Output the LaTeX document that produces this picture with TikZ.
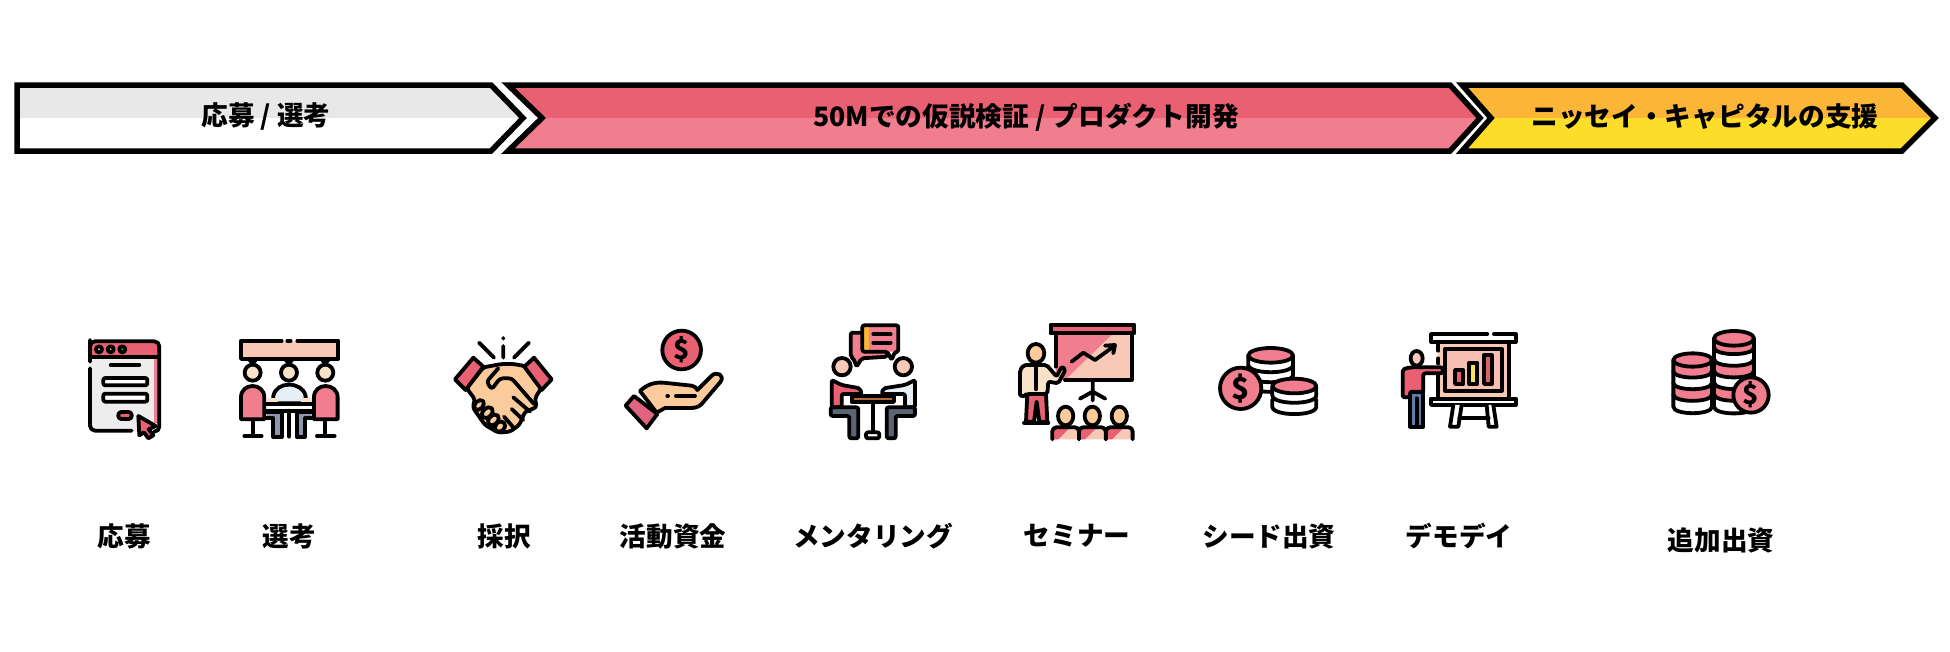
\documentclass[tikz,border=0pt]{standalone}
\usepackage{fontspec}
\setmainfont{Noto Sans CJK JP}
\usetikzlibrary{positioning}
\definecolor{flowRed}{HTML}{E96073}
\definecolor{flowPink}{HTML}{F07E8E}
\definecolor{flowGrey}{HTML}{E8E8E8}
\definecolor{flowAmber}{HTML}{FBB637}
\definecolor{flowYellow}{HTML}{FBDD2A}
\definecolor{iconPeach}{HTML}{F9C9B8}
\definecolor{iconSkin}{HTML}{FBCB9C}
\definecolor{iconCream}{HTML}{F9E3C8}
\definecolor{iconIce}{HTML}{E6EEF6}
\definecolor{iconSlate}{HTML}{8C97AE}
\definecolor{iconDark}{HTML}{5A6472}
\definecolor{iconBrown}{HTML}{B9683A}
\definecolor{iconBlue}{HTML}{5F7BA8}
\definecolor{iconRose}{HTML}{E0637F}
\tikzset{
  phaselabel/.style={font=\fontsize{26.7}{30}\selectfont\bfseries,inner sep=0pt},
  steplabel/.style={font=\fontsize{26.6}{30}\selectfont\bfseries,inner sep=0pt},
  phaseline/.style={draw=black,line width=5.5pt,miter limit=10},
  iconline/.style={draw=black,line width=3.8pt,line join=round,line cap=round},
  zoomed/.style={x=0.3333pt,y=-0.3333pt},
  dollar/.style={font=\fontsize{#1}{#1}\selectfont\bfseries,inner sep=0pt},
}
% #1 left, #2 notch, #3 shoulder, #4 tip, #5 upper colour, #6 lower colour
\newcommand{\phasebar}[6]{%
  \fill[#5] (#1,85) -- (#3,85) -- (#4,118) -- (#2,118) -- cycle;
  \fill[#6] (#2,118) -- (#4,118) -- (#3,151) -- (#1,151) -- cycle;
  \draw[phaseline] (#1,85) -- (#3,85) -- (#4,118) -- (#3,151) -- (#1,151) -- (#2,118) -- cycle;
}
% #1 centre x, #2 top y, #3 half width, #4 depth, #5 colour
\newcommand{\coinlayer}[5]{%
  \draw[iconline,fill=#5] ({#1-#3},#2) -- ({#1-#3},{#2+#4})
    .. controls ({#1-#3},{#2+#4+#3*0.45}) and ({#1+#3},{#2+#4+#3*0.45}) .. ({#1+#3},{#2+#4})
    -- ({#1+#3},#2) -- cycle;
}
\begin{document}
\begin{tikzpicture}[x=1pt,y=-1pt]
\useasboundingbox (0,0) rectangle (1950,651);
\phasebar{17}{17}{491}{523}{flowGrey}{white}
\phasebar{508}{542}{1450}{1480}{flowRed}{flowPink}
\phasebar{1462}{1491}{1902}{1935}{flowAmber}{flowYellow}
\node[phaselabel] (applyphase) at (266,117) {応募 / 選考};
\node[phaselabel] (testphase) at (1026,117) {50Mでの仮説検証 / プロダクト開発};
\node[phaselabel] (supportphase) at (1705,117) {ニッセイ・キャピタルの支援};

\node[steplabel] (apply) at (124,536) {応募};
\node[steplabel] (select) at (289,536) {選考};
\node[steplabel] (adopt) at (504,536) {採択};
\node[steplabel] (funds) at (673,536) {活動資金};
\node[steplabel] (mentor) at (873,536) {メンタリング};
\node[steplabel] (seminar) at (1077,536) {セミナー};
\node[steplabel] (seed) at (1269,536) {シード出資};
\node[steplabel] (demoday) at (1459,536) {デモデイ};
\node[steplabel] (followon) at (1721,540) {追加出資};

% form
\begin{scope}[shift={(60,310)},zoomed]
\fill[rounded corners=5pt,gray!14] (90,135) rectangle (298,365);
\fill[flowPink] (283,140) rectangle (298,340);
\fill[flowRed,rounded corners=5pt] (90,94) rectangle (298,140);
\draw[iconline,rounded corners=5pt] (90,155) -- (90,105) -- (90,94) -- (298,94) -- (298,365) -- (285,365);
\draw[iconline,rounded corners=5pt] (90,175) -- (90,362) -- (215,362);
\draw[iconline] (90,140) -- (298,140);
\draw[iconline,fill=white] (117,118) circle[radius=9];
\draw[iconline,fill=flowYellow] (152,118) circle[radius=9];
\draw[iconline,fill=green!60!gray] (187,118) circle[radius=9];
\draw[iconline] (152,165) -- (238,165);
\draw[iconline,fill=white,rounded corners=2pt] (130,204) rectangle (262,226);
\draw[iconline,fill=white,rounded corners=2pt] (130,251) rectangle (262,275);
\draw[iconline,fill=flowRed,rounded corners=3pt] (175,306) rectangle (215,327);
\draw[iconline,fill=flowRed] (235,318) -- (287,348) -- (266,358) -- (280,376) -- (265,385) -- (252,367) -- (238,376) -- cycle;
\end{scope}

% panel interview
\begin{scope}[shift={(60,310)},zoomed]
\fill[iconPeach] (543,92) rectangle (835,147);
\draw[iconline] (665,92) -- (543,92) -- (543,147) -- (835,147) -- (835,92) -- (712,92);
\draw[iconline] (682,92) -- (692,92);
\foreach \xs in {578,687,796} {
  \draw[iconline] (\xs-12,147) -- (\xs,160) -- (\xs+12,147);
  \draw[iconline,fill=iconCream] (\xs,188) circle[radius=24];
}
\draw[iconline,fill=iconIce] (640,280) -- (640,258) .. controls (645,235) and (665,224) .. (687,224) .. controls (710,224) and (732,235) .. (737,258) -- (737,280) -- cycle;
\fill[iconCream] (620,263) rectangle (655,280);
\fill[iconCream] (722,263) rectangle (757,280);
\draw[iconline,fill=white] (613,283) rectangle (762,302);
\draw[iconline,fill=iconSlate] (620,305) -- (665,305) -- (665,380) -- (640,380) -- (640,325) -- (620,325);
\draw[iconline,fill=iconSlate] (755,305) -- (710,305) -- (710,380) -- (735,380) -- (735,325) -- (755,325);
\draw[iconline] (687,302) -- (687,380);
\draw[iconline,fill=flowPink] (543,328) -- (543,262) .. controls (543,240) and (560,228) .. (578,228) .. controls (596,228) and (613,240) .. (613,262) -- (613,328) -- cycle;
\draw[iconline,fill=flowPink] (762,328) -- (762,262) .. controls (762,240) and (779,228) .. (797,228) .. controls (815,228) and (833,240) .. (833,262) -- (833,328) -- cycle;
\draw[iconline] (578,330) -- (578,378) (553,378) -- (605,378);
\draw[iconline] (796,330) -- (796,378) (771,378) -- (824,378);
\end{scope}

% handshake
\begin{scope}[shift={(430,310)},zoomed]
\draw[iconline] (147,98) -- (192,143) (220,108) -- (220,143) (297,98) -- (252,143) (220,84) -- (220,86);
\draw[iconline,fill=iconSkin,rounded corners=3pt] (160,172) -- (215,162) -- (250,162) -- (285,168) -- (335,232) -- (315,265) -- (320,292) -- (285,305) -- (268,345) -- (240,365) -- (205,368) -- (165,345) -- (128,292) -- (135,268) -- (110,235) -- cycle;
\draw[iconline,fill=flowRed] (130,143) -- (160,170) -- (107,240) -- (75,208) -- cycle;
\draw[iconline,fill=flowRed] (312,143) -- (283,170) -- (335,240) -- (365,208) -- cycle;
\draw[iconline,rounded corners=3pt] (205,175) -- (170,215) -- (185,238) -- (210,205) -- (245,205) -- (312,282);
\draw[iconline] (250,262) -- (300,305) (245,297) -- (280,330) (222,320) -- (250,352);
\draw[iconline,fill=iconSkin,rotate around={45:(147,285)}] (147,285) ellipse [x radius=17,y radius=12];
\draw[iconline,fill=iconSkin,rotate around={45:(172,308)}] (172,308) ellipse [x radius=19,y radius=13];
\draw[iconline,fill=iconSkin,rotate around={45:(190,330)}] (190,330) ellipse [x radius=19,y radius=13];
\draw[iconline,fill=iconSkin,rotate around={45:(210,350)}] (210,350) ellipse [x radius=17,y radius=14];
\end{scope}

% hand with coin
\begin{scope}[shift={(430,310)},zoomed]
\draw[iconline,fill=flowRed] (755,120) circle[radius=58];
\node[dollar=27] (handcoin) at (755,120) {\$};
\draw[iconline,fill=iconSkin] (630,243) .. controls (650,225) and (670,216) .. (700,218) -- (785,227) .. controls (795,228) and (800,235) .. (802,240) -- (845,197) .. controls (860,183) and (885,195) .. (872,215) -- (815,282) .. controls (805,292) and (795,294) .. (780,294) -- (705,294) -- (680,308) -- cycle;
\draw[iconline,fill=iconRose] (612,258) -- (682,312) -- (650,355) -- (587,287) -- cycle;
\draw[iconline] (738,258) -- (795,258) (712,258) -- (714,258);
\end{scope}

% mentoring
\begin{scope}[shift={(800,310)},zoomed]
\draw[iconline,fill=flowPink,rounded corners=2pt] (152,68) -- (262,68) -- (262,140) -- (185,145) -- (170,170) -- (160,145) -- (152,140) -- cycle;
\fill[flowPink,rounded corners=2pt] (187,46) rectangle (295,125);
\fill[flowAmber] (190,48) rectangle (206,125);
\draw[iconline,rounded corners=2pt] (187,125) -- (187,46) -- (295,46) -- (295,125) -- (285,125) -- (275,150) -- (262,125) -- cycle;
\draw[iconline] (220,73) -- (272,73) (220,98) -- (272,98);
\draw[iconline,fill=iconPeach] (126,170) circle[radius=26];
\draw[iconline,fill=iconPeach] (310,170) circle[radius=26];
\draw[iconline,fill=flowRed,rounded corners=2pt] (95,210) -- (125,225) -- (180,235) -- (185,252) -- (125,252) -- (125,292) -- (95,292) -- cycle;
\draw[iconline,fill=iconIce,rounded corners=2pt] (345,210) -- (315,225) -- (250,235) -- (245,252) -- (315,252) -- (315,292) -- (345,292) -- cycle;
\draw[iconline,fill=iconBrown] (155,258) rectangle (282,276);
\draw[iconline] (218,276) -- (218,368);
\draw[iconline,fill=white,rounded corners=2pt] (198,367) rectangle (238,385);
\draw[iconline,fill=iconDark,rounded corners=2pt] (92,292) -- (175,292) -- (175,385) -- (148,385) -- (148,318) -- (92,318) -- cycle;
\draw[iconline,fill=iconDark,rounded corners=2pt] (345,292) -- (260,292) -- (260,385) -- (287,385) -- (287,318) -- (345,318) -- cycle;
\end{scope}

% seminar
\begin{scope}[shift={(800,310)},zoomed]
\fill[iconPeach] (767,70) rectangle (995,210);
\fill[flowPink] (767,70) -- (940,70) -- (795,210) -- (767,210) -- cycle;
\draw[iconline] (767,70) -- (767,170) (995,70) -- (995,210) -- (795,210);
\draw[iconline,fill=flowRed] (752,44) rectangle (1003,70);
\draw[iconline] (815,155) -- (850,128) -- (885,150) -- (940,110) (915,107) -- (945,105) -- (940,130);
\draw[iconline] (878,212) -- (878,272) (840,266) -- (878,245) -- (916,266);
\draw[iconline,fill=iconSkin] (708,130) ellipse [x radius=25,y radius=28];
\draw[iconline,fill=flowRed] (682,250) -- (738,250) -- (742,335) -- (718,335) -- (710,275) -- (702,335) -- (678,335) -- cycle;
\draw[iconline,fill=iconCream,rounded corners=2pt] (672,165) -- (740,165) -- (770,200) -- (785,170) -- (797,178) -- (775,220) -- (745,215) -- (742,252) -- (680,252) -- (678,258) -- (660,258) -- (660,180) -- cycle;
\draw[iconline] (708,172) -- (708,238) (672,338) -- (745,338);
\foreach \xp in {797,877,958} {
  \fill[iconPeach] (\xp-40,388) -- (\xp-40,368) -- (\xp-25,352) -- (\xp+25,352) -- (\xp+40,368) -- (\xp+40,388) -- cycle;
  \fill[flowRed] (\xp-40,388) -- (\xp-40,368) -- (\xp-25,352) -- (\xp+14,352) -- (\xp-22,388) -- cycle;
  \draw[iconline,rounded corners=4pt] (\xp-40,388) -- (\xp-40,352) -- (\xp+40,352) -- (\xp+40,388);
  \draw[iconline,fill=iconSkin] (\xp,318) ellipse [x radius=23,y radius=28];
}
\end{scope}

% seed coins
\begin{scope}[shift={(1200,310)},zoomed]
\coinlayer{212}{198}{67}{25}{white}
\coinlayer{212}{166}{67}{28}{white}
\coinlayer{212}{136}{67}{28}{white}
\draw[iconline,fill=flowPink] (212,136) ellipse [x radius=67,y radius=22];
\coinlayer{283}{268}{66}{22}{white}
\coinlayer{283}{228}{66}{28}{white}
\draw[iconline,fill=flowPink] (283,228) ellipse [x radius=66,y radius=22];
\draw[iconline,fill=flowPink] (122,235) circle[radius=62];
\node[dollar=30] (seedcoin) at (122,235) {\$};
\end{scope}

% demo day
\begin{scope}[shift={(1200,310)},zoomed]
\fill[iconPeach] (715,95) rectangle (928,265);
\draw[iconline] (715,95) -- (715,122) (715,145) -- (715,160) (715,190) -- (715,265) (928,95) -- (928,265);
\draw[iconline,fill=iconPeach!90!flowRed] (735,116) rectangle (905,242);
\draw[iconline,fill=flowRed] (765,180) rectangle (790,222);
\draw[iconline,fill=flowYellow!80!white] (808,158) rectangle (832,222);
\draw[iconline,fill=flowRed!70!iconBrown] (852,136) rectangle (875,222);
\draw[iconline] (862,72) -- (693,72) -- (693,95) -- (947,95) -- (947,72) -- (882,72);
\draw[iconline,fill=white] (693,266) rectangle (947,285);
\draw[iconline,fill=white] (760,285) -- (750,350) -- (775,350) -- (785,285);
\draw[iconline,fill=white] (860,285) -- (866,350) -- (890,350) -- (880,285);
\draw[iconline] (778,325) -- (866,325);
\draw[iconline,fill=iconBlue] (630,245) -- (670,245) -- (670,350) -- (630,350) -- cycle;
\draw[iconline] (650,265) -- (650,350);
\draw[iconline,fill=flowRed,rounded corners=2pt] (608,178) -- (630,172) -- (728,172) -- (728,190) -- (670,190) -- (670,245) -- (630,245) -- (630,262) -- (608,262) -- cycle;
\draw[iconline,fill=iconPeach] (650,145) ellipse [x radius=18,y radius=22];
\end{scope}

% follow-on coins
\begin{scope}[shift={(1640,310)},zoomed]
\coinlayer{158}{253}{58}{37}{white}
\coinlayer{158}{218}{58}{35}{flowPink}
\coinlayer{158}{183}{58}{35}{white}
\coinlayer{158}{150}{58}{33}{flowPink}
\draw[iconline,fill=flowPink] (158,150) ellipse [x radius=58,y radius=20];
\coinlayer{282}{252}{60}{38}{white}
\coinlayer{282}{217}{60}{35}{flowPink}
\coinlayer{282}{182}{60}{35}{white}
\coinlayer{282}{147}{60}{35}{flowPink}
\coinlayer{282}{112}{60}{35}{white}
\coinlayer{282}{85}{60}{27}{flowPink}
\draw[iconline,fill=flowPink] (282,85) ellipse [x radius=60,y radius=22];
\draw[iconline,fill=flowPink] (333,255) circle[radius=53];
\node[dollar=27] (followcoin) at (333,255) {\$};
\end{scope}
\end{tikzpicture}
\end{document}
